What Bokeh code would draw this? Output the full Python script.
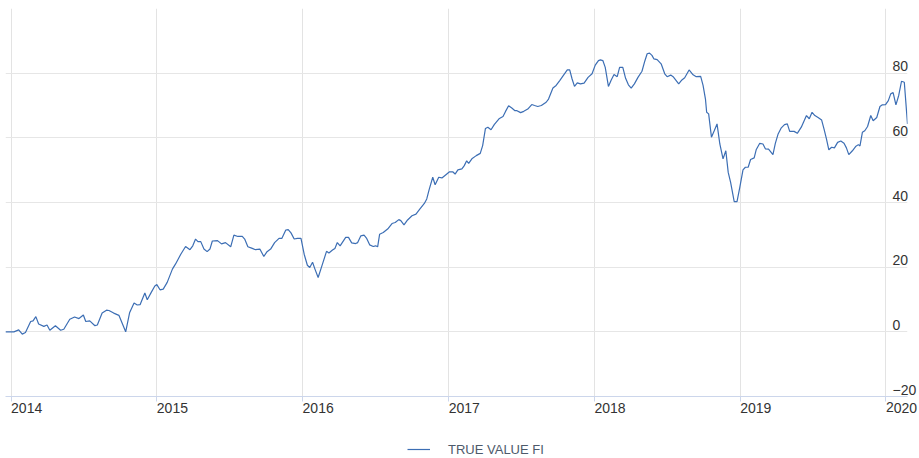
import pandas as pd
from bokeh.plotting import figure
from bokeh.layouts import column
from bokeh.models import (FixedTicker, DatetimeTickFormatter, Legend, LegendItem,
                          Range1d, ColumnDataSource)
from bokeh.embed import file_html
from bokeh.resources import INLINE

series_name = "TRUE VALUE FI"

dates = [
    "2013-12-18", "2014-01-08", "2014-01-20", "2014-01-29", "2014-02-06", "2014-02-19",
    "2014-02-25", "2014-03-04", "2014-03-11", "2014-03-24", "2014-04-01", "2014-04-08",
    "2014-04-22", "2014-05-05", "2014-05-13", "2014-05-28", "2014-06-09", "2014-06-20",
    "2014-07-01", "2014-07-07", "2014-07-17", "2014-07-30", "2014-08-05", "2014-08-17",
    "2014-08-28", "2014-09-03", "2014-09-15", "2014-09-28", "2014-10-07", "2014-10-15",
    "2014-10-25", "2014-11-05", "2014-11-13", "2014-11-20", "2014-12-02", "2014-12-08",
    "2014-12-18", "2014-12-27",
    "2015-01-01", "2015-01-09", "2015-01-17", "2015-01-27", "2015-02-09", "2015-02-17",
    "2015-03-02", "2015-03-14", "2015-03-25", "2015-04-01", "2015-04-08", "2015-04-14",
    "2015-04-21", "2015-04-29", "2015-05-07", "2015-05-14", "2015-05-20", "2015-06-02",
    "2015-06-12", "2015-06-22", "2015-07-05", "2015-07-13", "2015-07-23", "2015-08-03",
    "2015-08-09", "2015-08-17", "2015-08-28", "2015-09-05", "2015-09-16", "2015-09-26",
    "2015-10-04", "2015-10-13", "2015-10-23", "2015-11-03", "2015-11-10", "2015-11-20",
    "2015-11-26", "2015-12-03", "2015-12-11", "2015-12-19", "2015-12-28",
    "2016-01-05", "2016-01-13", "2016-01-19", "2016-01-26", "2016-02-01", "2016-02-09",
    "2016-02-20", "2016-03-01", "2016-03-07", "2016-03-16", "2016-03-22", "2016-03-28",
    "2016-04-04", "2016-04-11", "2016-04-18", "2016-04-25", "2016-05-03", "2016-05-13",
    "2016-05-18", "2016-05-26", "2016-06-03", "2016-06-09", "2016-06-17", "2016-06-26",
    "2016-07-02", "2016-07-07", "2016-07-12", "2016-07-21", "2016-08-01", "2016-08-12",
    "2016-08-20", "2016-08-29", "2016-09-03", "2016-09-11", "2016-09-20", "2016-10-01",
    "2016-10-11", "2016-10-21", "2016-11-01", "2016-11-07", "2016-11-13", "2016-11-22",
    "2016-11-28", "2016-12-07", "2016-12-15", "2016-12-25",
    "2017-01-03", "2017-01-11", "2017-01-17", "2017-01-24", "2017-02-03", "2017-02-09",
    "2017-02-15", "2017-02-20", "2017-02-28", "2017-03-11", "2017-03-21", "2017-03-27",
    "2017-04-03", "2017-04-09", "2017-04-17", "2017-04-25", "2017-05-08", "2017-05-17",
    "2017-05-23", "2017-05-31", "2017-06-08", "2017-06-16", "2017-06-21", "2017-06-30",
    "2017-07-08", "2017-07-18", "2017-07-28", "2017-08-04", "2017-08-12", "2017-08-21",
    "2017-09-02", "2017-09-08", "2017-09-19", "2017-09-27", "2017-10-06", "2017-10-17",
    "2017-10-25", "2017-10-31", "2017-11-06", "2017-11-12", "2017-11-19", "2017-11-27",
    "2017-12-06", "2017-12-16", "2017-12-26",
    "2018-01-03", "2018-01-11", "2018-01-16", "2018-01-22", "2018-01-28", "2018-02-05",
    "2018-02-12", "2018-02-19", "2018-02-27", "2018-03-05", "2018-03-13", "2018-03-20",
    "2018-03-27", "2018-04-03", "2018-04-11", "2018-04-20", "2018-04-30", "2018-05-07",
    "2018-05-13", "2018-05-19", "2018-05-25", "2018-05-30", "2018-06-07", "2018-06-17",
    "2018-06-26", "2018-07-02", "2018-07-11", "2018-07-17", "2018-07-31", "2018-08-08",
    "2018-08-15", "2018-08-26", "2018-09-05", "2018-09-13", "2018-09-24", "2018-09-30",
    "2018-10-06", "2018-10-09", "2018-10-14", "2018-10-21", "2018-10-28", "2018-11-04",
    "2018-11-11", "2018-11-19", "2018-11-26", "2018-12-02", "2018-12-08", "2018-12-17",
    "2018-12-24", "2018-12-31",
    "2019-01-08", "2019-01-14", "2019-01-21", "2019-01-27", "2019-02-05", "2019-02-10",
    "2019-02-19", "2019-02-27", "2019-03-05", "2019-03-13", "2019-03-24", "2019-03-30",
    "2019-04-06", "2019-04-14", "2019-04-22", "2019-04-29", "2019-05-05", "2019-05-16",
    "2019-05-24", "2019-06-03", "2019-06-16", "2019-06-23", "2019-06-30", "2019-07-07",
    "2019-07-15", "2019-07-24", "2019-07-30", "2019-08-05", "2019-08-11", "2019-08-18",
    "2019-08-25", "2019-09-02", "2019-09-10", "2019-09-18", "2019-09-24", "2019-09-30",
    "2019-10-09", "2019-10-17", "2019-10-24", "2019-10-28", "2019-11-03", "2019-11-09",
    "2019-11-16", "2019-11-24", "2019-11-30", "2019-12-09", "2019-12-17", "2019-12-23",
    "2019-12-31",
    "2020-01-07", "2020-01-13", "2020-01-19", "2020-01-26", "2020-02-02", "2020-02-09",
    "2020-02-16", "2020-02-24",
]

values = [
    0.0, 0.0, 0.6, -0.7, -0.2, 3.2,
    3.4, 4.7, 2.4, 1.7, 2.1, 0.5,
    1.9, 0.5, 0.8, 3.9, 4.6, 4.1,
    5.2, 3.2, 3.4, 1.9, 2.1, 5.8,
    6.7, 6.6, 5.8, 5.1, 2.4, 0.0,
    6.0, 8.9, 8.3, 8.4, 12.0, 9.9,
    12.2, 14.2,
    14.6, 13.0, 13.2, 15.3, 19.4, 21.0,
    24.0, 26.4, 25.4, 26.6, 28.7, 27.9,
    27.9, 25.6, 24.8, 25.6, 28.1, 28.2,
    27.2, 27.6, 26.3, 29.9, 29.5, 29.5,
    28.7, 26.3, 25.8, 25.4, 25.6, 23.3,
    24.8, 25.6, 27.6, 28.9, 28.9, 31.5,
    31.6, 30.6, 28.7, 28.9, 28.9,
    24.0, 20.6, 19.9, 21.5, 19.4, 16.8,
    21.0, 24.9, 24.4, 25.3, 25.8, 27.6,
    26.6, 27.9, 29.2, 29.2, 27.5, 27.3,
    27.6, 29.7, 29.9, 29.0, 26.9, 26.4,
    26.6, 26.3, 30.2, 30.7, 31.8, 33.5,
    33.8, 34.7, 34.4, 33.1, 34.6, 35.9,
    36.4, 38.0, 39.7, 41.1, 44.0, 47.8,
    45.5, 47.8, 47.6, 48.6,
    49.5, 49.5, 48.8, 50.1, 50.4, 51.4,
    52.9, 52.1, 53.5, 54.5, 55.2, 57.6,
    62.9, 63.3, 62.5, 64.1, 66.0, 66.6,
    68.1, 69.9, 69.2, 68.4, 68.4, 67.8,
    68.2, 68.9, 70.3, 70.0, 69.7, 70.0,
    71.0, 72.0, 75.4, 76.2, 77.7, 79.6,
    81.0, 81.0, 78.2, 75.9, 77.0, 76.7,
    76.9, 78.7, 79.8,
    82.5, 83.9, 84.1, 83.9, 81.8, 75.9,
    77.9, 79.6, 78.9, 81.8, 81.8, 78.4,
    76.4, 75.4, 76.7, 78.7, 80.6, 83.7,
    86.0, 86.2, 85.5, 84.4, 84.2, 82.9,
    79.8, 78.9, 79.4, 78.9, 76.7, 77.9,
    78.6, 81.0, 79.5, 78.9, 79.0, 76.2,
    72.0, 67.9, 67.4, 60.2, 62.2, 64.3,
    58.1, 53.5, 56.0, 49.3, 46.2, 40.3,
    40.3, 44.7,
    50.1, 50.9, 50.9, 53.3, 53.8, 56.3,
    58.3, 58.1, 56.6, 56.5, 54.8, 58.3,
    61.2, 63.1, 64.1, 64.3, 62.0, 62.0,
    61.4, 63.3, 66.9, 65.9, 67.9, 66.9,
    66.3, 65.5, 62.7, 59.7, 56.3, 57.1,
    56.9, 58.6, 59.0, 58.3, 56.9, 54.8,
    56.0, 57.3, 57.9, 57.5, 61.7, 62.2,
    63.5, 66.9, 65.3, 66.3, 69.7, 70.2,
    70.3,
    71.5, 73.6, 74.0, 70.2, 73.1, 77.5,
    77.2, 64.3,
]

year_labels = ["2014", "2015", "2016", "2017", "2018", "2019", "2020"]
y_ticks = [-20, 0, 20, 40, 60, 80, 100]

FONT = "Liberation Sans"
LINE_COLOR = "#3c6eb4"

# layout (pixels)
W = 919
MAIN_H = 428
TOP, BOTTOM = 8, 32
LABEL_LIFT_PX = 7  # y-axis labels sit slightly above their grid lines

x = pd.to_datetime(dates)
src = ColumnDataSource(dict(x=x, y=values))

p = figure(width=W, height=MAIN_H, x_axis_type="datetime", y_axis_location="right",
           x_range=Range1d(x[0], x[-1]), y_range=Range1d(y_ticks[0], y_ticks[-1]),
           output_backend="svg", toolbar_location=None,
           min_border_left=5, min_border_top=TOP, min_border_bottom=BOTTOM,
           min_border_right=12)
p.outline_line_color = None
p.background_fill_color = "white"
p.border_fill_color = "white"

r = p.line("x", "y", source=src, line_color=LINE_COLOR, line_width=1.2)

# x axis: ticks at the start of each year, labels left-aligned on the tick
year_ticker = FixedTicker(ticks=[pd.Timestamp(f"{y}-01-01").value / 1e6 for y in year_labels])
p.xaxis.ticker = year_ticker
p.xaxis.formatter = DatetimeTickFormatter(years="%Y", months="%Y", days="%Y")
p.xaxis.axis_line_color = "#ccd6eb"
p.xaxis.major_tick_line_color = "#ccd6eb"
p.xaxis.major_tick_out = 5
p.xaxis.major_tick_in = 0
p.xaxis.minor_tick_line_color = None
p.xaxis.major_label_orientation = -0.0001
p.xaxis.major_label_standoff = 6
p.xaxis.major_label_text_font = FONT
p.xaxis.major_label_text_font_size = "14px"
p.xaxis.major_label_text_color = "#333333"

# y axis on the right, labels lifted a few pixels above their grid lines
frame_h = MAIN_H - TOP - BOTTOM
lift = LABEL_LIFT_PX * (y_ticks[-1] - y_ticks[0]) / frame_h
p.extra_y_ranges = {"labels": Range1d(y_ticks[0] - lift, y_ticks[-1] - lift)}
p.yaxis.y_range_name = "labels"
p.yaxis.ticker = FixedTicker(ticks=y_ticks)
p.yaxis.major_label_overrides = {100: ""}
p.yaxis.axis_line_color = None
p.yaxis.major_tick_line_color = None
p.yaxis.minor_tick_line_color = None
p.yaxis.major_tick_out = 0
p.yaxis.major_tick_in = 0
p.yaxis.major_label_standoff = -15
p.yaxis.major_label_text_font = FONT
p.yaxis.major_label_text_font_size = "14px"
p.yaxis.major_label_text_color = "#333333"

p.xgrid.ticker = year_ticker
p.xgrid.grid_line_color = "#e3e3e3"
p.ygrid.ticker = FixedTicker(ticks=y_ticks)
p.ygrid.grid_line_color = "#e6e6e6"

# legend strip below the chart (its sample renderer is hidden; only the key is shown)
leg = figure(width=W, height=30, x_axis_location=None, y_axis_location=None,
             x_range=Range1d(0, 1), y_range=Range1d(0, 1),
             output_backend="svg", toolbar_location=None, min_border=0)
leg.outline_line_color = None
leg.grid.visible = False
sample = leg.line("x", "y", source=src, line_color=LINE_COLOR, line_width=1.2)
sample.visible = False
legend = Legend(items=[LegendItem(label=series_name, renderers=[sample])],
                location=(402, 1), orientation="horizontal",
                glyph_width=23, glyph_height=16, label_height=16, label_standoff=18,
                padding=0, margin=0, spacing=0,
                border_line_color=None, background_fill_alpha=0,
                label_text_font=FONT, label_text_font_size="13px",
                label_text_color="#4d5a6b")
leg.add_layout(legend)

layout = column(p, leg, spacing=0)
open("out.html", "w").write(file_html(layout, INLINE))
